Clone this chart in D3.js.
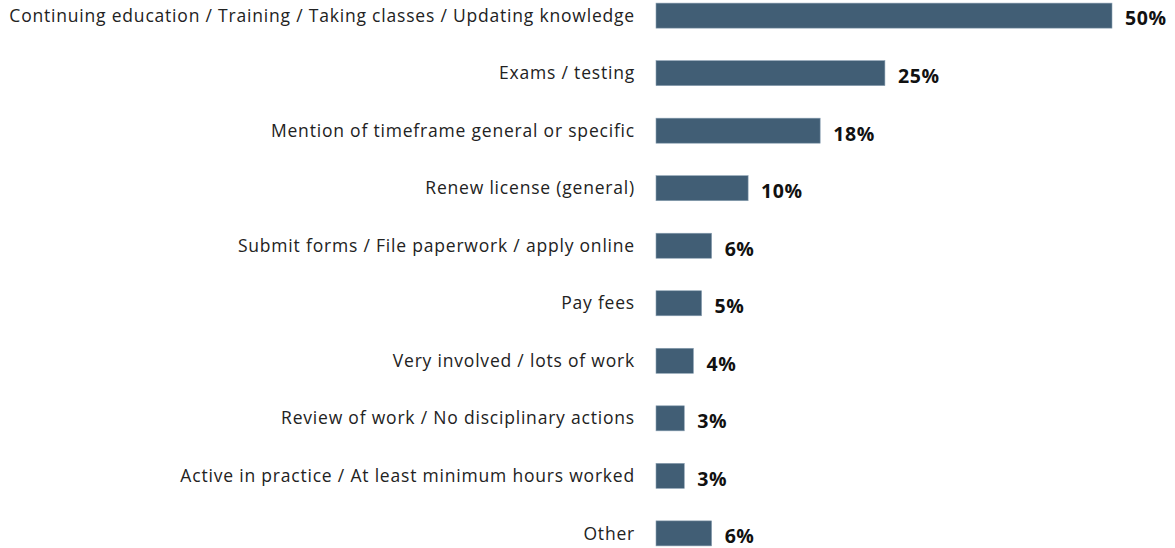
<!DOCTYPE html>
<html><head><meta charset="utf-8">
<script src="https://cdn.jsdelivr.net/npm/d3@7"></script>
<style>body{margin:0;background:#fff}svg{display:block}</style>
</head><body>
<svg id="c" width="1175" height="548"></svg>
<script>
const categories = [
  "Continuing education / Training / Taking classes / Updating knowledge",
  "Exams / testing",
  "Mention of timeframe general or specific",
  "Renew license (general)",
  "Submit forms / File paperwork / apply online",
  "Pay fees",
  "Very involved / lots of work",
  "Review of work / No disciplinary actions",
  "Active in practice / At least minimum hours worked",
  "Other"
];
const values = [50, 25.1, 18, 10.1, 6.1, 5, 4.1, 3.1, 3.1, 6.1];
const valueLabels = ["50%","25%","18%","10%","6%","5%","4%","3%","3%","6%"];

const svg = d3.select("#c");
const x = d3.scaleLinear().domain([0, 50]).range([656, 1112]);
const y = d3.scaleBand().domain(categories).range([-13, 562]).paddingInner(0.565).paddingOuter(0.28);

svg.selectAll("rect.bar").data(categories).join("rect")
  .attr("class","bar")
  .attr("x", x(0))
  .attr("y", d => y(d))
  .attr("width", (d,i) => x(values[i]) - x(0))
  .attr("height", y.bandwidth())
  .attr("fill", "#415e75")
  .attr("stroke", "#8aa0b2").attr("stroke-width", 0.6);

svg.selectAll("text.cat").data(categories).join("text")
  .attr("class","cat")
  .attr("x", 635)
  .attr("y", d => y(d) + y.bandwidth()/2)
  .attr("dy","0.35em")
  .attr("text-anchor","end")
  .attr("font-family","'Open Sans', 'Noto Sans', sans-serif")
  .attr("font-size", 17.5)
  .attr("letter-spacing", "0.8px")
  .attr("fill","#222")
  .text(d => d);

svg.selectAll("text.val").data(categories).join("text")
  .attr("class","val")
  .attr("x", (d,i) => x(values[i]) + 13)
  .attr("y", d => y(d) + y.bandwidth()/2 + 3)
  .attr("dy","0.35em")
  .attr("font-family","'Open Sans', 'Noto Sans', sans-serif")
  .attr("font-weight","bold")
  .attr("font-size", 19.5)
  .attr("letter-spacing", "0.6px")
  .attr("fill","#111")
  .text((d,i) => valueLabels[i]);
</script>
</body></html>
